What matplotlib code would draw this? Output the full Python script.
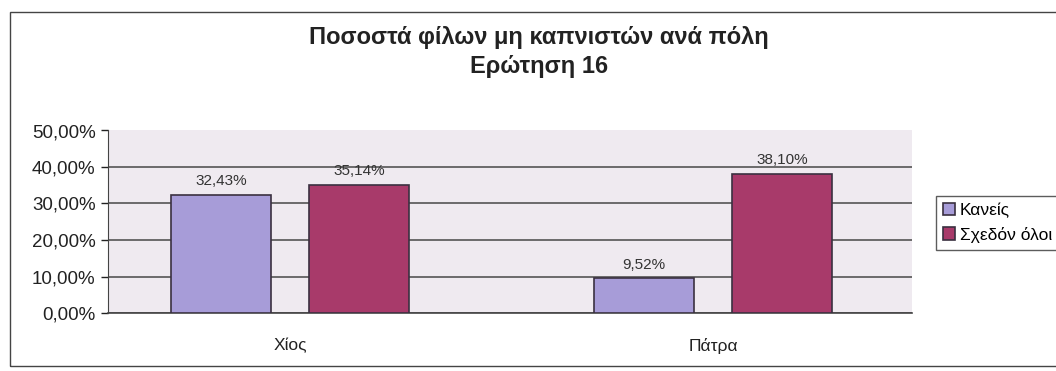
import matplotlib

matplotlib.use("Agg")
import matplotlib.pyplot as plt
import numpy as np
from matplotlib.patches import Rectangle
from matplotlib.ticker import FuncFormatter

# chart data
cities = ["Χίος", "Πάτρα"]
series_names = ["Κανείς", "Σχεδόν όλοι"]
kaneis = [32.43, 9.52]
sxedon_oloi = [35.14, 38.10]
y_ticks = [0, 10, 20, 30, 40, 50]

title_text = "Ποσοστά φίλων μη καπνιστών ανά πόλη\nΕρώτηση 16"

plt.rcParams["font.family"] = ["Liberation Sans", "DejaVu Sans"]


def pct(v):
    """Greek-style percentage: comma as decimal separator."""
    return f"{v:.2f}".replace(".", ",") + "%"


fig = plt.figure(figsize=(10.56, 3.71), dpi=100)
fig.patch.set_facecolor("white")

# outer chart border (right side runs off the page in the scan)
fig.patches.append(Rectangle((10 / 1056, 1 - 366 / 371), 1.05, (366 - 12) / 371,
                             transform=fig.transFigure, fill=False,
                             edgecolor="#444444", linewidth=1.0))

ax = fig.add_axes([108 / 1056, 1 - 313 / 371, (912 - 108) / 1056, (313 - 130.5) / 371])
ax.set_facecolor("#efeaf0")

x = np.arange(len(cities))
bar_w = 0.236
offset = 0.163
colors = ["#a79cd8", "#a83a6a"]

bars1 = ax.bar(x - offset, kaneis, bar_w, color=colors[0], edgecolor="#3a3040",
               linewidth=1.2, label=series_names[0], zorder=3)
bars2 = ax.bar(x + offset, sxedon_oloi, bar_w, color=colors[1], edgecolor="#3a3040",
               linewidth=1.2, label=series_names[1], zorder=3)

for bars in (bars1, bars2):
    for b in bars:
        h = b.get_height()
        ax.text(b.get_x() + b.get_width() / 2, h + 1.8, pct(h), ha="center",
                va="bottom", fontsize=11, color="#333333")

ax.set_xlim(-0.43, 1.47)
ax.set_ylim(0, 50)
ax.set_yticks(y_ticks)
ax.yaxis.set_major_formatter(FuncFormatter(lambda v, _: pct(v)))
ax.set_xticks(x)
ax.set_xticklabels(cities)
ax.tick_params(axis="x", length=0, pad=18, labelsize=12.5, colors="#222222")
ax.tick_params(axis="y", direction="out", length=5, width=1, pad=4,
               labelsize=13.5, colors="#222222")

ax.grid(axis="y", color="#555555", linewidth=1.2, zorder=1)
for side in ("top", "right"):
    ax.spines[side].set_visible(False)
ax.spines["left"].set_color("#444444")
ax.spines["bottom"].set_color("#444444")
ax.spines["bottom"].set_linewidth(1.2)

fig.text(539 / 1056, 1 - 52 / 371, title_text, ha="center", va="center",
         fontsize=17, fontweight="bold", color="#222222", linespacing=1.3)

leg = fig.legend(loc="upper left", bbox_to_anchor=(927 / 1056, 1 - 187 / 371),
                 fontsize=12.5, frameon=True, fancybox=False, handlelength=0.7,
                 handleheight=0.7, handletextpad=0.3, borderpad=0.4,
                 labelspacing=0.5)
leg.get_frame().set_edgecolor("#333333")
leg.get_frame().set_linewidth(1.0)

fig.savefig("out.png", dpi=100)
